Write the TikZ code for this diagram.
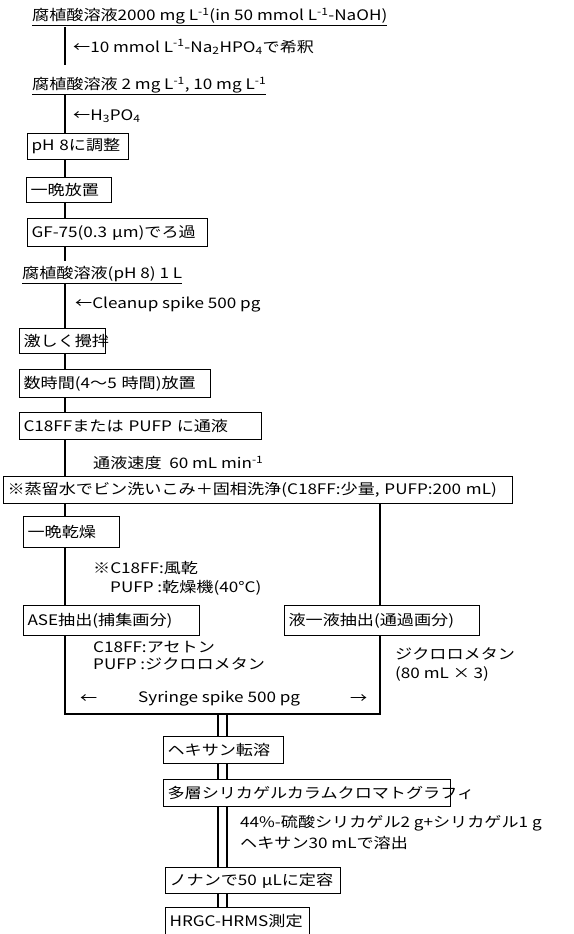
\documentclass[tikz,border=0pt]{standalone}
\usepackage{fontspec}
\setmainfont{Noto Sans CJK JP}[FakeStretch=1.18]
\newcommand{\sps}[1]{\textsuperscript{#1}}
\newcommand{\sbs}[1]{\textsubscript{#1}}
\begin{document}
\begin{tikzpicture}[x=1pt,y=-1pt,
  every node/.style={font=\fontsize{14.5pt}{17pt}\selectfont},
  box/.style={draw, line width=1.1pt, anchor=north west, inner xsep=4pt, inner ysep=0pt, align=left, minimum height=27pt},
  txt/.style={anchor=west, inner sep=0pt},
  conn/.style={line width=1.6pt},
  dbl/.style={line width=1.1pt}]
\useasboundingbox[fill=white] (0,0) rectangle (573,934);
\coordinate (L) at (65,0);
\coordinate (R) at (380,0);
\coordinate (D1) at (218,0);
\coordinate (D2) at (227,0);
\coordinate (M1) at (65,714);
\coordinate (M2) at (380,714);

\node[txt] (t1) at (32,17) {\underline{腐植酸溶液2000 mg L\sps{-1}(in 50 mmol L\sps{-1}-NaOH)}};
\node[txt] (l1) at (73,47) {←10 mmol L\sps{-1}-Na\sbs{2}HPO\sbs{4}で希釈};
\node[txt] (t2) at (32,86) {\underline{腐植酸溶液 2 mg L\sps{-1}, 10 mg L\sps{-1}}};
\node[txt] (l2) at (73,116) {←H\sbs{3}PO\sbs{4}};
\node[box, text width=93pt, minimum height=26pt] (b1) at (27,133) {\mbox{pH 8に調整}};
\node[box, text width=77pt, minimum height=25pt] (b2) at (26,177) {\mbox{一晩放置}};
\node[box, text width=172pt, minimum height=28pt] (b3) at (27,218) {\mbox{GF-75(0.3 μm)でろ過}};
\node[txt] (t3) at (22,275) {\underline{腐植酸溶液(pH 8) 1 L}};
\node[txt] (l3) at (75,305) {←Cleanup spike 500 pg};
\node[box, text width=78pt, minimum height=25pt] (b4) at (19,328) {\mbox{激しく攪拌}};
\node[box, text width=183pt, minimum height=28pt] (b5) at (19,369) {\mbox{数時間(4～5 時間)放置}};
\node[box, text width=234pt, minimum height=27pt] (b6) at (19,412) {\mbox{C18FFまたは PUFP に通液}};
\node[txt] (l4) at (93,463) {通液速度\ \ 60 mL min\sps{-1}};
\node[box, text width=501pt, minimum height=27pt] (b7) at (3,476) {\mbox{※蒸留水でビン洗いこみ＋固相洗浄(C18FF:少量, PUFP:200 mL)}};
\node[box, text width=88pt, minimum height=31pt] (b8) at (23,516) {\mbox{一晩乾燥}};
\node[txt] (l5) at (93,568) {※C18FF:風乾};
\node[txt] (l6) at (110,588) {PUFP :乾燥機(40°C)};
\node[box, text width=168pt, minimum height=30pt] (b9) at (23,605) {\mbox{ASE抽出(捕集画分)}};
\node[box, text width=187pt, minimum height=30pt] (b10) at (284,605) {\mbox{液一液抽出(通過画分)}};
\node[txt] (l7) at (93,647) {C18FF:アセトン};
\node[txt] (l8) at (93,664) {PUFP :ジクロロメタン};
\node[txt] (l9) at (395,654) {ジクロロメタン};
\node[txt] (l10) at (395,674) {(80 mL × 3)};
\node[txt] (a1) at (80,699) {←};
\node[txt] (a2) at (138,699) {Syringe spike 500 pg};
\node[txt] (a3) at (350,699) {→};
\node[box, text width=112pt, minimum height=27pt] (b11) at (163,736) {\mbox{ヘキサン転溶}};
\node[box, text width=279pt, minimum height=27pt] (b12) at (163,779) {\mbox{多層シリカゲルカラムクロマトグラフィ}};
\node[txt] (l11) at (240,823) {44\%-硫酸シリカゲル2 g+シリカゲル1 g};
\node[txt] (l12) at (240,843) {ヘキサン30 mLで溶出};
\node[box, text width=167pt, minimum height=26pt] (b13) at (165,867) {\mbox{ノナンで50 μLに定容}};
\node[box, text width=136pt, minimum height=27pt] (b14) at (165,907) {\mbox{HRGC-HRMS測定}};

\draw[conn, shorten <=1pt, shorten >=12pt] (t1.south -| L) -- (t2.north -| L);
\draw[conn] (t2.south -| L) -- (b1.north -| L);
\draw[conn] (b1.south -| L) -- (b2.north -| L);
\draw[conn] (b2.south -| L) -- (b3.north -| L);
\draw[conn, shorten >=5pt] (b3.south -| L) -- (t3.north -| L);
\draw[conn] (t3.south -| L) -- (b4.north -| L);
\draw[conn] (b4.south -| L) -- (b5.north -| L);
\draw[conn] (b5.south -| L) -- (b6.north -| L);
\draw[conn] (b6.south -| L) -- (b7.north -| L);
\draw[conn] (b7.south -| L) -- (b8.north -| L);
\draw[conn] (b8.south -| L) -- (b9.north -| L);
\draw[conn] (b7.south -| R) -- (b10.north -| R);
\draw[conn] (b9.south -| L) -- (M1) -- (M2) -- (b10.south -| R);
\draw[dbl] (M1 -| D1) -- (b11.north -| D1);
\draw[dbl] (M1 -| D2) -- (b11.north -| D2);
\draw[dbl] (b11.south -| D1) -- (b12.north -| D1);
\draw[dbl] (b11.south -| D2) -- (b12.north -| D2);
\draw[dbl] (b12.south -| D1) -- (b13.north -| D1);
\draw[dbl] (b12.south -| D2) -- (b13.north -| D2);
\draw[dbl] (b13.south -| D1) -- (b14.north -| D1);
\draw[dbl] (b13.south -| D2) -- (b14.north -| D2);
\end{tikzpicture}
\end{document}
